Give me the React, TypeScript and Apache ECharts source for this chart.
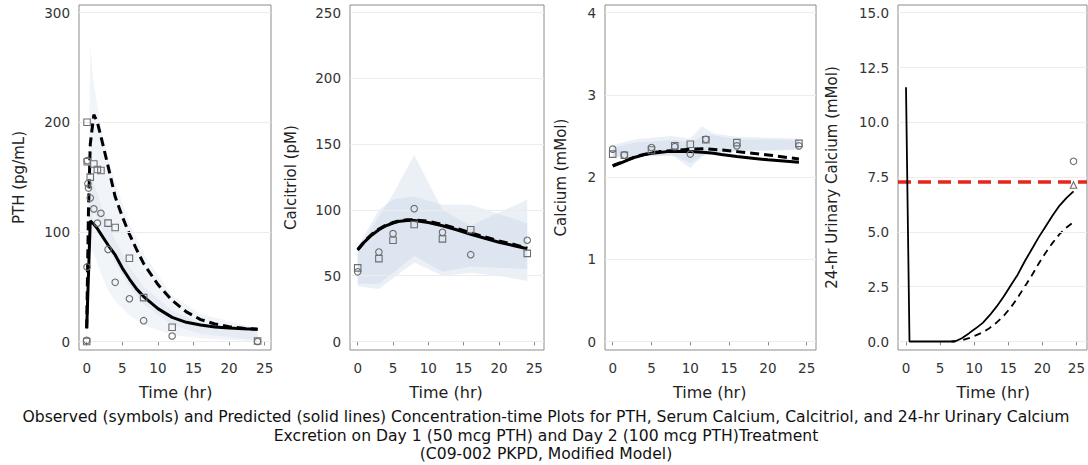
import React, { useEffect, useRef } from "react";
import * as echarts from "echarts";

// ---------- tick labels ----------
const timeTicks = [0, 5, 10, 15, 20, 25];
const pthTicks = [0, 100, 200, 300];
const calcitriolTicks = [0, 50, 100, 150, 200, 250];
const calciumTicks = [0, 1, 2, 3, 4];
const urineTicks = [0, 2.5, 5, 7.5, 10, 12.5, 15];

const yTitles = ["PTH (pg/mL)", "Calcitriol (pM)", "Calcium (mMol)", "24-hr Urinary Calcium (mMol)"];
const xTitle = "Time (hr)";
const captionLines = [
  "Observed (symbols) and Predicted (solid lines) Concentration-time Plots for PTH, Serum Calcium, Calcitriol, and 24-hr Urinary Calcium",
  "Excretion on Day 1 (50 mcg PTH) and Day 2 (100 mcg PTH)Treatment",
  "(C09-002 PKPD, Modified Model)",
];

// ---------- PTH ----------
const pthDay1Pred = [[0, 12], [0.5, 110], [1, 107], [1.5, 103], [2, 98], [3, 88], [4, 79], [5, 67], [6, 57], [7, 48], [8, 41], [10, 30], [12, 22], [14, 17.5], [16, 15], [18, 13.3], [20, 12.3], [22, 11.6], [24, 11.2]];
const pthDay2Pred = [[0, 12], [0.25, 120], [0.5, 180], [1, 207], [1.5, 200], [2, 187], [3, 160], [4, 132], [5, 114], [6, 98], [7, 84], [8, 71], [10, 52], [12, 37.5], [14, 27], [16, 20], [18, 16], [20, 13.5], [22, 12], [24, 11.2]];
const pthDay1Obs = [[0, 1], [0.05, 68], [0.08, 165], [0.17, 144], [0.25, 140], [0.5, 131], [1, 121], [1.5, 108], [2, 117], [3, 84], [4, 54], [6, 39], [8, 19], [12, 5], [24, 0]];
const pthDay2Obs = [[0, 0], [0.05, 200], [0.08, 164], [0.5, 150], [1, 162], [1.5, 157], [2, 156], [3, 108], [4, 104], [6, 76], [8, 40], [12, 13], [24, 0.5]];
const pthDay1Band = [[0, 0, 22], [0.5, 85, 150], [1, 80, 145], [2, 62, 125], [3, 47, 108], [4, 37, 92], [6, 24, 68], [8, 15, 50], [12, 6, 28], [16, 3, 17], [24, 0, 10]];
const pthDay2Band = [[0, 0, 25], [0.5, 95, 270], [1, 120, 235], [2, 105, 195], [3, 88, 168], [4, 72, 145], [6, 50, 108], [8, 34, 80], [12, 15, 42], [16, 7, 25], [24, 1, 12]];

// ---------- Calcitriol ----------
const calcitriolDay1Pred = [[0, 69.5], [1, 76], [2, 81], [3, 85], [4, 88], [5, 90], [6, 91.5], [7, 92], [8, 92], [10, 90.5], [12, 88], [14, 85], [16, 81.5], [18, 78.5], [20, 75.5], [22, 73], [24, 70.5]];
const calcitriolDay2Pred = [[0, 70], [1, 76.5], [2, 81.5], [3, 85.5], [4, 88.5], [5, 90.5], [6, 92], [7, 92.5], [8, 92.5], [10, 91.5], [12, 89], [14, 86], [16, 82.5], [18, 79.5], [20, 76.5], [22, 74], [24, 71]];
const calcitriolDay1Obs = [[0, 53], [3, 68], [5, 82], [8, 101], [12, 83], [16, 66], [24, 77]];
const calcitriolDay2Obs = [[0, 56], [3, 63], [5, 77], [8, 89], [12, 78], [16, 85], [24, 67]];
const calcitriolBandA = [[0, 42, 70], [3, 40, 95], [5, 48, 112], [8, 60, 142], [12, 50, 100], [16, 52, 88], [20, 50, 98], [24, 46, 108]];
const calcitriolBandB = [[0, 44, 72], [3, 44, 100], [5, 52, 108], [8, 65, 110], [12, 53, 104], [16, 57, 104], [20, 56, 97], [24, 55, 90]];

// ---------- Serum calcium ----------
const calciumDay1Pred = [[0, 2.135], [1, 2.17], [2, 2.21], [3, 2.245], [4, 2.27], [5, 2.29], [6, 2.3], [7, 2.31], [8, 2.31], [10, 2.31], [12, 2.3], [13, 2.29], [14, 2.275], [16, 2.25], [18, 2.23], [20, 2.21], [22, 2.195], [24, 2.18]];
const calciumDay2Pred = [[0, 2.14], [1, 2.175], [2, 2.215], [3, 2.25], [4, 2.275], [5, 2.295], [6, 2.31], [8, 2.325], [10, 2.34], [12, 2.345], [14, 2.33], [16, 2.31], [18, 2.29], [20, 2.27], [22, 2.245], [24, 2.22]];
const calciumDay1Obs = [[0, 2.34], [1.5, 2.27], [5, 2.36], [8, 2.37], [10, 2.28], [12, 2.46], [16, 2.38], [24, 2.38]];
const calciumDay2Obs = [[0, 2.28], [1.5, 2.265], [5, 2.33], [8, 2.38], [10, 2.4], [12, 2.455], [16, 2.42], [24, 2.41]];
const calciumBandA = [[0, 2.25, 2.39], [3, 2.25, 2.46], [7.6, 2.27, 2.5], [10, 2.11, 2.47], [11.5, 2.25, 2.62], [13, 2.29, 2.53], [16, 2.31, 2.49], [24, 2.33, 2.47]];
const calciumBandB = [[0, 2.24, 2.36], [3, 2.25, 2.42], [8, 2.26, 2.45], [10, 2.17, 2.42], [12, 2.28, 2.52], [16, 2.32, 2.46], [24, 2.34, 2.45]];

// ---------- Urinary calcium ----------
const urineDay1Pred = [[0, 11.6], [0.5, 0], [7, 0], [8, 0.15], [9, 0.37], [10, 0.6], [11, 0.85], [12, 1.2], [13, 1.6], [14, 2.05], [15, 2.55], [16, 3.05], [17, 3.65], [18, 4.2], [19, 4.75], [20, 5.25], [21, 5.75], [22, 6.2], [23, 6.55], [24, 6.85]];
const urineDay2Pred = [[6.5, 0], [8, 0.05], [9, 0.15], [10, 0.28], [11, 0.42], [12, 0.62], [13, 0.87], [14, 1.17], [15, 1.55], [16, 2.0], [17, 2.5], [18, 3.0], [19, 3.55], [20, 4.05], [21, 4.5], [22, 4.9], [23, 5.2], [24, 5.45]];
const urineDay1Obs = [[24, 8.22]];
const urineDay2Obs = [[24, 7.14]];
const urineThreshold = [7.3];

// ---------- layout (pixels) ----------
const BOX_TOP = 5;
const BOX_BOTTOM = 350;
const Y_TICK_TOP = 12.7;
const Y_TICK_ZERO = 341.5;
const FONT = "'DejaVu Sans', Verdana, sans-serif";
const AXIS_COLOR = "#8c8c8c";
const SYMBOL_COLOR = "#6e6e6e";

const panelGeo = [
  { L: 79, R: 271, x0: 86.7, x25: 264.7, titleX: 19 },
  { L: 350, R: 544, x0: 357.7, x25: 534.3, titleX: 290.7 },
  { L: 605, R: 816, x0: 612.7, x25: 806.7, titleX: 560.7 },
  { L: 898, R: 1087, x0: 906, x25: 1080.5, titleX: 831.7 },
];

const panels = [
  { yTicks: pthTicks, fmt: (v: number) => String(v), bands: [pthDay2Band, pthDay1Band], bandColor: "rgba(190,205,228,0.22)", solid: pthDay1Pred, dashed: pthDay2Pred, circles: pthDay1Obs, squares: pthDay2Obs, triangles: [], threshold: [], lw: 3, dash: [9, 5] },
  { yTicks: calcitriolTicks, fmt: (v: number) => String(v), bands: [calcitriolBandA, calcitriolBandB], bandColor: "rgba(190,205,228,0.30)", solid: calcitriolDay1Pred, dashed: calcitriolDay2Pred, circles: calcitriolDay1Obs, squares: calcitriolDay2Obs, triangles: [], threshold: [], lw: 3, dash: [9, 5] },
  { yTicks: calciumTicks, fmt: (v: number) => String(v), bands: [calciumBandA, calciumBandB], bandColor: "rgba(190,205,228,0.30)", solid: calciumDay1Pred, dashed: calciumDay2Pred, circles: calciumDay1Obs, squares: calciumDay2Obs, triangles: [], threshold: [], lw: 3, dash: [9, 5] },
  { yTicks: urineTicks, fmt: (v: number) => v.toFixed(1), bands: [], bandColor: "rgba(190,205,228,0.30)", solid: urineDay1Pred, dashed: urineDay2Pred, circles: urineDay1Obs, squares: [], triangles: urineDay2Obs, threshold: urineThreshold, lw: 1.8, dash: [7, 5] },
];

function buildOption() {
  const grid: any[] = [];
  const xAxis: any[] = [];
  const yAxis: any[] = [];
  const series: any[] = [];
  const graphic: any[] = [];

  panels.forEach((p, i) => {
    const g = panelGeo[i];
    const xMin = timeTicks[0];
    const xMax = timeTicks[timeTicks.length - 1];
    const yMin = p.yTicks[0];
    const yMax = p.yTicks[p.yTicks.length - 1];
    const pxX = (g.x25 - g.x0) / (xMax - xMin);
    const pxY = (Y_TICK_ZERO - Y_TICK_TOP) / (yMax - yMin);
    const boxIdx = i * 2;
    const tickIdx = i * 2 + 1;

    grid.push({
      left: g.L, top: BOX_TOP, width: g.R - g.L, height: BOX_BOTTOM - BOX_TOP,
      show: true, borderColor: AXIS_COLOR, borderWidth: 1, backgroundColor: "rgba(0,0,0,0)",
    });
    grid.push({
      left: g.x0, top: Y_TICK_TOP, width: g.x25 - g.x0, height: Y_TICK_ZERO - Y_TICK_TOP,
      show: false,
    });

    xAxis.push({
      type: "value", gridIndex: boxIdx, show: false,
      min: xMin - (g.x0 - g.L) / pxX, max: xMax + (g.R - g.x25) / pxX,
    });
    xAxis.push({
      type: "value", gridIndex: tickIdx, min: xMin, max: xMax, interval: timeTicks[1] - timeTicks[0],
      position: "bottom", offset: BOX_BOTTOM - Y_TICK_ZERO,
      axisLine: { show: false },
      axisTick: { show: true, length: 4, lineStyle: { color: AXIS_COLOR } },
      axisLabel: { margin: 11, fontSize: 13.5, color: "#333", fontFamily: FONT },
      splitLine: { show: false },
    });
    yAxis.push({
      type: "value", gridIndex: boxIdx, show: false,
      min: yMin - (BOX_BOTTOM - Y_TICK_ZERO) / pxY, max: yMax + (Y_TICK_TOP - BOX_TOP) / pxY,
    });
    yAxis.push({
      type: "value", gridIndex: tickIdx, min: yMin, max: yMax, interval: p.yTicks[1] - p.yTicks[0],
      position: "left", offset: g.x0 - g.L,
      axisLine: { show: false },
      axisTick: { show: true, length: 5, lineStyle: { color: AXIS_COLOR } },
      axisLabel: { margin: 9, fontSize: 13.5, color: "#333", fontFamily: FONT, formatter: p.fmt },
      splitLine: { show: false },
    });

    p.bands.forEach((band) => {
      series.push({
        type: "custom", xAxisIndex: boxIdx, yAxisIndex: boxIdx, data: band, silent: true, z: 1,
        renderItem: (params: any, api: any) => {
          if (params.dataIndex !== 0) return null;
          const up = band.map((r) => api.coord([r[0], r[2]]));
          const lo = band.map((r) => api.coord([r[0], r[1]])).reverse();
          return { type: "polygon", shape: { points: up.concat(lo) }, style: { fill: p.bandColor } };
        },
      });
    });

    series.push({
      type: "line", xAxisIndex: boxIdx, yAxisIndex: boxIdx, data: [], z: 0, silent: true,
      markLine: {
        silent: true, symbol: ["none", "none"], label: { show: false }, animation: false,
        lineStyle: { color: "#ececec", width: 1, type: "solid" },
        data: p.yTicks.map((v) => ({ yAxis: v })),
      },
    });
    if (p.threshold.length) {
      series.push({
        type: "line", xAxisIndex: boxIdx, yAxisIndex: boxIdx, data: [], z: 6, silent: true,
        markLine: {
          silent: true, symbol: ["none", "none"], label: { show: false }, animation: false,
          lineStyle: { color: "#e8241c", width: 3.5, type: [13, 7] },
          data: p.threshold.map((v) => ({ yAxis: v })),
        },
      });
    }

    series.push({
      type: "line", xAxisIndex: boxIdx, yAxisIndex: boxIdx, data: p.dashed, showSymbol: false, z: 4,
      lineStyle: { color: "#000", width: p.lw, type: p.dash }, clip: false,
    });
    series.push({
      type: "line", xAxisIndex: boxIdx, yAxisIndex: boxIdx, data: p.solid, showSymbol: false, z: 5,
      lineStyle: { color: "#000", width: p.lw, type: "solid" }, clip: false,
    });

    const sym = (data: number[][], symbol: string, size: number) => ({
      type: "scatter", xAxisIndex: boxIdx, yAxisIndex: boxIdx, data, symbol, symbolSize: size, z: 7,
      itemStyle: { color: "rgba(255,255,255,0)", borderColor: SYMBOL_COLOR, borderWidth: 1.1, opacity: 1 },
      clip: false,
    });
    if (p.circles.length) series.push(sym(p.circles, "circle", 6.5));
    if (p.squares.length) series.push(sym(p.squares, "rect", 6.5));
    if (p.triangles.length) series.push(sym(p.triangles, "triangle", 6.5));

    graphic.push({
      type: "text", x: g.titleX, y: (BOX_TOP + BOX_BOTTOM) / 2, rotation: Math.PI / 2,
      style: { text: yTitles[i], fontSize: 15, fontFamily: FONT, fill: "#222", align: "center", verticalAlign: "middle", textAlign: "center", textVerticalAlign: "middle" },
    });
    graphic.push({
      type: "text", x: (g.x0 + g.x25) / 2, y: 392,
      style: { text: xTitle, fontSize: 16, fontFamily: FONT, fill: "#222", align: "center", verticalAlign: "middle", textAlign: "center", textVerticalAlign: "middle" },
    });
  });

  const capY = [417, 436, 454];
  captionLines.forEach((t, k) => {
    graphic.push({
      type: "text", x: 546, y: capY[k],
      style: { text: t, fontSize: 15.6, fontFamily: FONT, fill: "#111", align: "center", verticalAlign: "middle", textAlign: "center", textVerticalAlign: "middle" },
    });
  });

  return {
    animation: false,
    backgroundColor: "#fff",
    textStyle: { fontFamily: FONT },
    grid, xAxis, yAxis, series, graphic,
  };
}

export default function App() {
  const ref = useRef<HTMLDivElement>(null);
  useEffect(() => {
    if (!ref.current) return;
    const chart = echarts.init(ref.current, undefined, { renderer: "svg" });
    chart.setOption(buildOption() as any);
    return () => chart.dispose();
  }, []);
  return (
    <div
      ref={ref}
      style={{ position: "absolute", left: 0, top: 0, width: 1088, height: 465, background: "#fff" }}
    />
  );
}
